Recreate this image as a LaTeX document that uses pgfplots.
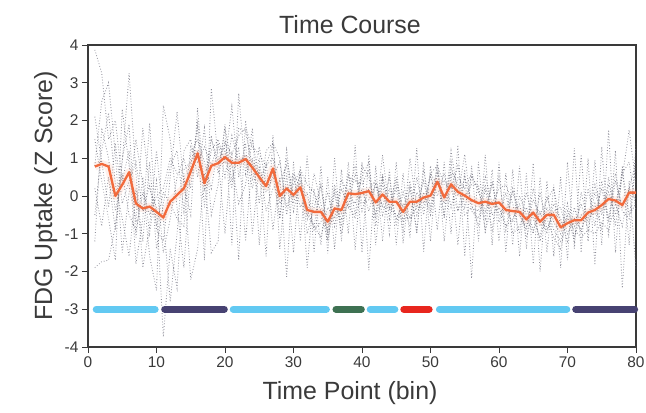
\documentclass[border=0pt]{standalone}
\usepackage{pgfplots}
\usepackage{pgfplotstable}
\pgfplotsset{compat=1.18}
\usepackage{fontspec}
\setmainfont{Liberation Sans}
\definecolor{lblue}{HTML}{62C9F2}
\definecolor{dpurple}{HTML}{474272}
\definecolor{dgreen}{HTML}{3E7152}
\definecolor{bred}{HTML}{E8261E}
\definecolor{morange}{HTML}{F26A3C}
\definecolor{dotgray}{HTML}{6E6E7C}
\definecolor{axgray}{HTML}{3A3A3A}

\pgfplotstableread{
x a b c d e f g h
1 3.87 -1.9 0.8 1.5 -0.5 0.2 2.1 -1.2
2 3.26 -1.74 2.5 0.4 1.2 -0.8 0.9 1.8
3 1.5 -1.7 3.0 -0.6 2.2 0.5 -0.3 1.0
4 2.0 -0.8 1.1 -1.7 0.3 -0.9 1.4 -0.4
5 0.4 0.9 -1.5 2.3 -0.6 1.0 -0.2 0.6
6 1.2 3.25 0.1 0.8 -1.6 1.9 0.4 -0.5
7 -1.8 0.6 1.5 -0.7 0.2 -1.1 0.9 -0.9
8 -0.6 -1.9 0.3 1.8 -1.2 0.5 -0.4 0.1
9 1.93 -0.8 -1.6 0.2 0.9 -1.0 0.3 -0.5
10 -0.9 1.2 -2.5 -0.3 -1.4 0.4 -0.8 0.0
11 -1.2 -0.6 2.4 -3.73 -0.2 -1.5 0.1 0.2
12 0.5 -2.8 1.5 -1.4 0.8 -0.6 -0.2 1.0
13 2.23 -1.0 -0.3 -2.44 1.2 0.5 -0.6 0.6
14 0.3 1.2 -1.9 0.6 -0.4 1.0 -0.8 0.7
15 -0.5 1.5 0.8 -2.22 1.3 0.2 1.1 0.9
16 2.33 0.5 1.8 -1.4 0.9 2.0 1.5 1.2
17 0.2 1.8 -1.7 0.6 1.3 -0.3 0.9 0.4
18 1.2 -0.5 2.85 -1.5 0.8 1.6 0.2 1.5
19 1.5 0.3 1.0 -1.2 1.4 0.6 1.3 0.9
20 0.9 1.9 -1.0 1.5 0.5 1.8 1.2 1.4
21 2.37 -1.3 1.2 0.4 1.6 0.8 0.2 1.1
22 0.5 2.72 -1.7 1.3 0.9 -0.2 1.8 1.6
23 1.4 0.6 2.0 -1.2 1.1 0.3 1.7 1.8
24 -1.0 1.8 0.4 1.0 0.2 1.5 0.8 1.3
25 0.8 -1.3 1.3 -0.2 1.0 0.4 0.6 1.1
26 -1.6 0.9 0.3 1.2 -0.4 0.8 0.1 0.8
27 1.61 -0.9 0.6 1.4 0.2 1.0 0.5 1.4
28 -1.4 0.5 -0.6 1.0 0.4 -0.2 0.9 -0.6
29 0.6 -2.14 1.22 -0.5 0.8 0.1 -0.3 1.0
30 -1.5 0.9 -0.4 0.5 -0.2 0.6 0.3 0.0
31 0.8 -1.2 0.4 -0.3 0.6 0.2 0.7 0.6
32 -1.9 1.09 -0.6 0.1 -1.0 -0.5 0.3 -0.4
33 0.2 -1.5 0.6 -0.9 -0.3 -0.8 0.1 -0.8
34 -1.3 0.8 -0.2 -0.7 0.3 -1.1 -0.4 0.3
35 0.5 -1.52 -1.0 0.1 -0.9 -0.3 -1.2 -1.1
36 -1.4 1.0 0.2 -0.8 0.3 -0.6 0.1 -0.3
37 0.7 -1.2 -0.8 0.2 -0.5 0.4 -1.0 -0.6
38 -1.0 0.9 0.5 -0.3 0.6 0.1 0.0 -0.2
39 1.35 -1.43 0.4 0.6 -0.5 0.8 -0.2 -0.6
40 -1.5 0.9 0.3 -0.4 0.8 -0.2 0.5 0.2
41 1.09 -1.96 0.7 0.2 0.5 -0.1 0.9 -0.4
42 -1.3 0.8 -0.6 0.4 -0.5 0.3 -0.8 0.3
43 0.4 -1.2 1.09 -0.3 0.6 -0.5 0.5 -0.3
44 -1.0 0.7 -0.4 0.5 -0.6 0.2 -0.3 -0.3
45 0.9 -1.3 0.2 -0.8 0.4 -0.6 0.5 -0.5
46 -1.25 0.6 -0.9 0.1 -0.7 -0.2 -0.4 -0.6
47 0.3 -1.1 1.0 -0.6 0.2 -0.8 0.4 -0.6
48 -1.0 1.27 -0.3 0.5 -0.9 0.1 -0.5 -0.3
49 0.9 -1.47 0.4 -0.5 0.7 -0.2 0.1 -0.3
50 -1.2 0.8 -0.4 0.6 -0.3 0.5 -0.5 0.6
51 1.0 -0.9 0.6 0.3 0.8 0.0 0.4 0.8
52 -1.2 0.9 -0.5 0.4 -0.6 0.6 -0.2 0.3
53 0.6 -1.0 1.2 0.2 0.9 -0.3 0.7 0.2
54 -1.3 1.35 0.0 0.8 -0.4 0.5 0.3 -0.4
55 0.7 -1.6 1.1 -0.3 0.5 0.2 -0.5 0.0
56 -2.18 0.8 -0.4 0.5 -0.2 0.6 -0.3 0.3
57 0.9 -1.2 -0.6 0.2 -0.8 0.1 -0.4 0.3
58 -1.0 1.09 0.3 -0.6 0.2 -0.4 0.5 -0.9
59 0.7 -1.3 -0.5 0.4 -0.9 0.3 -0.2 -0.3
60 -1.2 0.9 -0.3 -0.7 0.5 -0.5 0.2 -0.2
61 0.6 -1.5 -0.8 0.1 -0.9 -0.4 0.3 -0.4
62 -1.3 0.7 -0.6 -1.0 0.2 -0.7 -0.2 0.1
63 0.8 -1.6 -0.2 -0.8 -0.5 0.0 -1.0 -0.5
64 -1.4 0.6 -1.1 -0.3 -0.9 -0.5 0.1 -0.8
65 0.87 -1.8 -0.4 -0.9 0.2 -1.0 -0.6 -0.1
66 -2.0 0.5 -1.2 -0.4 -0.8 0.1 -1.1 -0.5
67 0.4 -1.5 -0.3 -1.0 -0.6 -0.9 0.0 -0.1
68 -1.6 0.3 -0.9 -0.2 -1.1 -0.4 -0.7 0.2
69 0.5 -1.9 -1.2 -0.6 -1.4 -0.3 -1.0 -0.8
70 -1.7 0.9 -0.4 -1.2 -0.5 -1.0 -0.2 -0.6
71 1.27 -1.4 -0.8 -0.3 -1.2 -0.6 -1.1 -0.9
72 -1.5 1.1 -0.2 -1.0 0.1 -0.9 -0.5 -1.1
73 1.0 -1.2 -0.9 0.2 -0.7 -0.4 -0.6 -0.9
74 -1.83 0.95 0.1 -0.8 -0.2 -0.5 0.3 -1.0
75 1.3 -1.3 -0.5 0.4 -0.9 0.2 -0.4 -0.7
76 -1.1 1.75 0.3 -0.6 0.5 -0.7 0.1 -0.9
77 1.2 -1.5 -0.2 0.6 -0.8 0.4 -0.5 -0.2
78 -2.44 0.8 0.5 -0.4 0.6 -0.3 0.7 -0.8
79 0.4 -1.3 1.75 -0.6 0.9 0.2 -0.5 0.2
80 -1.96 1.4 0.3 0.8 -0.4 0.9 -0.2 -0.1
}\grays

\pgfplotstableread{
x m
1 0.78
2 0.85
3 0.78
4 0.0
5 0.3
6 0.63
7 -0.2
8 -0.33
9 -0.28
10 -0.42
11 -0.57
12 -0.15
13 0.03
14 0.2
15 0.65
16 1.13
17 0.34
18 0.8
19 0.87
20 1.03
21 0.88
22 0.88
23 0.98
24 0.75
25 0.5
26 0.26
27 0.73
28 0.0
29 0.2
30 0.03
31 0.23
32 -0.37
33 -0.42
34 -0.42
35 -0.68
36 -0.33
37 -0.37
38 0.07
39 0.05
40 0.08
41 0.13
42 -0.17
43 0.04
44 -0.15
45 -0.15
46 -0.42
47 -0.15
48 -0.15
49 -0.04
50 0.01
51 0.38
52 -0.04
53 0.31
54 0.11
55 0.01
56 -0.11
57 -0.19
58 -0.15
59 -0.21
60 -0.17
61 -0.37
62 -0.4
63 -0.42
64 -0.62
65 -0.44
66 -0.68
67 -0.5
68 -0.5
69 -0.83
70 -0.72
71 -0.64
72 -0.64
73 -0.44
74 -0.37
75 -0.24
76 -0.08
77 -0.12
78 -0.24
79 0.09
80 0.09
}\meantab

\begin{document}
\begin{tikzpicture}
\useasboundingbox (-88bp,-66bp) rectangle (558bp,347bp);
\begin{axis}[
  at={(0,0)}, anchor=south west,
  scale only axis, width=548bp, height=302bp,
  xmin=0, xmax=80, ymin=-4, ymax=4,
  xtick={0,10,...,80},
  ytick={-4,-3,...,4},
  yticklabels={-4,-3,-2,-1,0,1,2,3,4},
  xticklabels={0,10,20,30,40,50,60,70,80},
  xtick pos=bottom, ytick pos=left,
  tick align=outside,
  major tick length=6bp,
  axis line style={axgray, line width=1.3bp},
  every tick/.style={axgray, line width=1bp},
  tick label style={font=\fontsize{15.5}{18}\selectfont, text=axgray},
  clip=false,
]
\pgfplotsinvokeforeach{a,b,c,d,e,f,g,h}{
  \addplot[dotgray, line width=0.85bp, dash pattern=on 0.8bp off 2bp, opacity=0.75] table[x=x, y=#1] {\grays};
}
\addplot[morange, line width=8bp, opacity=0.10, line join=round] table[x=x, y=m] {\meantab};
\addplot[morange, line width=2.3bp, line join=round] table[x=x, y=m] {\meantab};
\addplot[lblue, line width=7bp, line cap=round] coordinates {(1.2,-3) (9.8,-3)};
\addplot[dpurple, line width=7bp, line cap=round] coordinates {(11.2,-3) (19.9,-3)};
\addplot[lblue, line width=7bp, line cap=round] coordinates {(21.2,-3) (34.8,-3)};
\addplot[dgreen, line width=7bp, line cap=round] coordinates {(36.2,-3) (39.9,-3)};
\addplot[lblue, line width=7bp, line cap=round] coordinates {(41.2,-3) (44.8,-3)};
\addplot[bred, line width=7bp, line cap=round] coordinates {(46.1,-3) (49.8,-3)};
\addplot[lblue, line width=7bp, line cap=round] coordinates {(51.3,-3) (69.9,-3)};
\addplot[dpurple, line width=7bp, line cap=round] coordinates {(71.2,-3) (79.8,-3)};
\end{axis}
\node[anchor=base, font=\fontsize{25}{30}\selectfont, text=axgray] at (262bp,313bp) {Time Course};
\node[anchor=base, font=\fontsize{25}{30}\selectfont, text=axgray] at (262bp,-52bp) {Time Point (bin)};
\node[anchor=base, rotate=90, font=\fontsize{25}{30}\selectfont, text=axgray] at (-36bp,151bp) {FDG Uptake (Z Score)};
\end{tikzpicture}
\end{document}
